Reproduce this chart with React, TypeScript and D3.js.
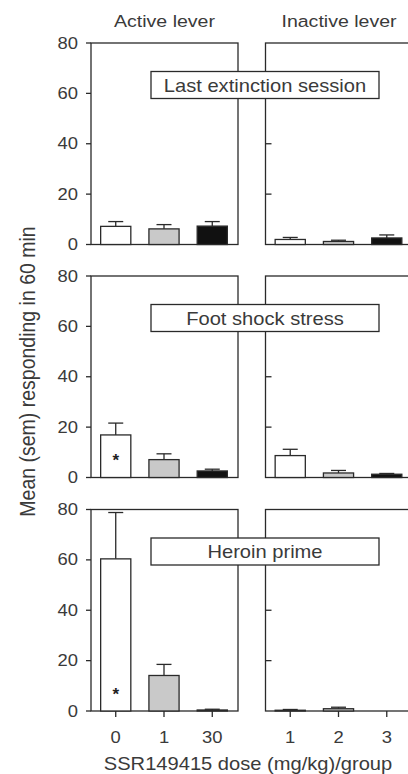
import * as React from 'react';
import { useRef, useEffect } from 'react';
import * as d3 from 'd3';

// dose groups (active lever) and group ticks (inactive lever)
const doses = ['0', '1', '30'];
const inactiveGroups = ['1', '2', '3'];
const sessions = ['Last extinction session', 'Foot shock stress', 'Heroin prime'];
const sides = ['Active lever', 'Inactive lever'];

// mean responses per session, per dose
const activeMean = [
  [7.2, 6.2, 7.3],
  [16.9, 7.1, 2.6],
  [60.4, 14.1, 0.4],
];
const activeSem = [
  [1.9, 1.7, 1.8],
  [4.7, 2.3, 0.7],
  [18.4, 4.4, 0.3],
];
const inactiveMean = [
  [2.0, 1.2, 2.6],
  [8.7, 1.8, 1.3],
  [0.3, 0.9, 0],
];
const inactiveSem = [
  [0.8, 0.5, 1.2],
  [2.5, 1.0, 0.3],
  [0.3, 0.6, 0],
];
// significance marks (active lever only)
const starred = [
  [false, false, false],
  [true, false, false],
  [true, false, false],
];
const yTicks = [0, 20, 40, 60, 80];

const FONT = '"Liberation Sans", Arial, sans-serif';
const INK = '#2a2a2a';
const TXT = '#3a3a3a';
const SX = 1.15; // reference text is a little wide
const barFills = ['#ffffff', '#c9c9c9', '#111111'];

export default function App() {
  const svgRef = useRef<SVGSVGElement | null>(null);

  useEffect(() => {
    if (!svgRef.current) return;
    const svg = d3.select(svgRef.current);
    svg.selectAll('*').remove();

    const panelTops = [43, 276, 509.5];
    const panelH = 201.5;
    const sideX = [91, 265.5];
    const panelW = 147;

    const text = (
      x: number, y: number, t: string, size: number,
      anchor = 'middle', rotate = false,
    ) =>
      svg.append('text')
        .attr('transform', `translate(${x},${y}) scale(${SX},1)${rotate ? ' rotate(-90)' : ''}`)
        .attr('text-anchor', anchor)
        .attr('font-family', FONT)
        .attr('font-size', size)
        .attr('fill', TXT)
        .text(t);

    // column titles
    sides.forEach((s, i) => text(sideX[i] + panelW / 2, 27, s, 17));

    sessions.forEach((session, p) => {
      const top = panelTops[p];
      const y = d3.scaleLinear().domain([0, 80]).range([top + panelH, top]);

      [0, 1].forEach(side => {
        const x0 = sideX[side];
        const cats = side === 0 ? doses : inactiveGroups;
        const means = side === 0 ? activeMean[p] : inactiveMean[p];
        const sems = side === 0 ? activeSem[p] : inactiveSem[p];
        const x = d3.scaleBand<string>()
          .domain(cats)
          .range([x0, x0 + 146])
          .paddingInner(0.375)
          .paddingOuter(0.2);
        const g = svg.append('g');

        // frame
        g.append('rect')
          .attr('x', x0).attr('y', y(80))
          .attr('width', panelW).attr('height', y(0) - y(80))
          .attr('fill', 'none').attr('stroke', INK).attr('stroke-width', 1.3);

        if (side === 0) {
          yTicks.forEach(t => {
            g.append('line')
              .attr('x1', x0 - 5).attr('x2', x0)
              .attr('y1', y(t)).attr('y2', y(t))
              .attr('stroke', INK).attr('stroke-width', 1.3);
            text(78, y(t) + 5.5, String(t), 16, 'end');
          });
        } else {
          yTicks.filter(t => t > 0 && t < 80).forEach(t => {
            g.append('line')
              .attr('x1', x0).attr('x2', x0 + 6)
              .attr('y1', y(t)).attr('y2', y(t))
              .attr('stroke', INK).attr('stroke-width', 1.3);
          });
        }

        // bars + error bars
        cats.forEach((c, i) => {
          const m = means[i];
          if (m <= 0) return;
          const cx = (x(c) as number) + x.bandwidth() / 2;
          const hi = y(m + sems[i]);
          g.append('line')
            .attr('x1', cx).attr('x2', cx)
            .attr('y1', y(m)).attr('y2', hi)
            .attr('stroke', INK).attr('stroke-width', 1.3);
          g.append('line')
            .attr('x1', cx - 7.5).attr('x2', cx + 7.5)
            .attr('y1', hi).attr('y2', hi)
            .attr('stroke', INK).attr('stroke-width', 1.3);
          g.append('rect')
            .attr('x', x(c) as number)
            .attr('y', y(m))
            .attr('width', x.bandwidth())
            .attr('height', y(0) - y(m))
            .attr('fill', barFills[i])
            .attr('stroke', INK).attr('stroke-width', 1.3);
          if (side === 0 && starred[p][i]) {
            svg.append('text')
              .attr('x', cx).attr('y', y(8) + 9)
              .attr('text-anchor', 'middle')
              .attr('font-family', FONT)
              .attr('font-size', 17)
              .attr('font-weight', 'bold')
              .attr('fill', '#222')
              .text('*');
          }
        });

        // x axis on the last row
        if (p === sessions.length - 1) {
          cats.forEach(c => {
            const cx = (x(c) as number) + x.bandwidth() / 2;
            g.append('line')
              .attr('x1', cx).attr('x2', cx)
              .attr('y1', y(0)).attr('y2', y(0) + 6)
              .attr('stroke', INK).attr('stroke-width', 1.3);
            text(cx, 743, c, 16);
          });
        }
      });

      // session label box
      svg.append('rect')
        .attr('x', 151).attr('y', top + 28.5)
        .attr('width', 228).attr('height', 27)
        .attr('fill', '#fff')
        .attr('stroke', INK).attr('stroke-width', 1.3);
      text(265, top + 48.5, session, 17.5);
    });

    // axis titles
    text(35, 371.5, 'Mean (sem) responding in 60 min', 19.5, 'middle', true);
    text(248, 770, 'SSR149415 dose (mg/kg)/group', 17.5);
  }, []);

  return (
    <svg
      ref={svgRef}
      width={408}
      height={774}
      style={{ position: 'absolute', left: 0, top: 0, display: 'block', background: '#fff' }}
    />
  );
}
